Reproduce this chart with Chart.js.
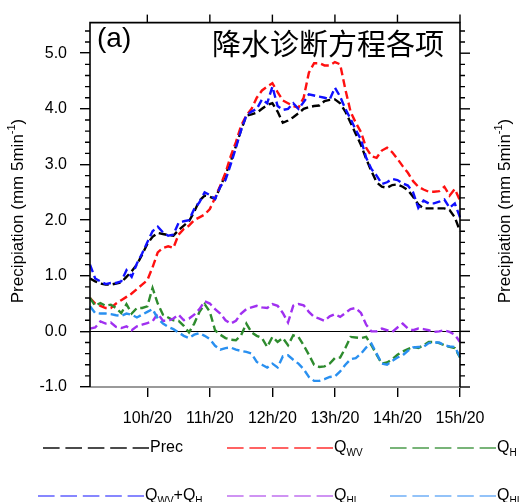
<!DOCTYPE html>
<html><head><meta charset="utf-8">
<script src="https://cdn.jsdelivr.net/npm/chart.js@4.4.1/dist/chart.umd.min.js"></script>
<style>html,body{margin:0;padding:0;background:#fff}#wrap{width:523px;height:502px}</style>
</head><body><div id="wrap"><canvas id="c" width="523" height="502"></canvas></div>
<script>
const times = ["09:05","09:10","09:15","09:20","09:25","09:30","09:35","09:40","09:45","09:50","09:55",
"10:00","10:05","10:10","10:15","10:20","10:25","10:30","10:35","10:40","10:45","10:50","10:55",
"11:00","11:05","11:10","11:15","11:20","11:25","11:30","11:35","11:40","11:45","11:50","11:55",
"12:00","12:05","12:10","12:15","12:20","12:25","12:30","12:35","12:40","12:45","12:50","12:55",
"13:00","13:05","13:10","13:15","13:20","13:25","13:30","13:35","13:40","13:45","13:50","13:55",
"14:00","14:05","14:10","14:15","14:20","14:25","14:30","14:35","14:40","14:45","14:50","14:55",
"15:00"];
const tickTimes = ["10:00","11:00","12:00","13:00","14:00","15:00"];
const tickLabels = ["10h/20","11h/20","12h/20","13h/20","14h/20","15h/20"];
const yTicks = [-1,0,1,2,3,4,5];

const prec = [0.95,0.90,0.86,0.84,0.84,0.86,0.88,0.98,1.08,1.20,1.38,1.57,1.70,1.77,1.75,1.73,1.72,1.82,1.90,1.98,2.15,2.35,2.44,2.42,2.38,2.60,2.82,3.05,3.33,3.62,3.88,3.90,3.93,4.00,4.07,4.10,3.95,3.75,3.79,3.85,3.92,4.00,4.03,4.05,4.06,4.14,4.16,4.17,4.10,3.95,3.75,3.55,3.35,3.10,2.88,2.68,2.60,2.58,2.63,2.64,2.60,2.54,2.42,2.28,2.21,2.21,2.21,2.21,2.21,2.18,2.05,1.80];
const qwv = [0.60,0.50,0.46,0.42,0.42,0.50,0.56,0.62,0.68,0.76,0.84,0.92,1.15,1.42,1.50,1.53,1.50,1.74,1.84,1.90,2.00,2.05,2.10,2.20,2.40,2.62,2.85,3.15,3.40,3.70,3.88,4.00,4.20,4.33,4.40,4.46,4.30,4.15,4.10,4.05,4.02,4.20,4.65,4.82,4.82,4.78,4.78,4.84,4.80,4.35,3.95,3.75,3.58,3.30,3.15,3.12,3.25,3.30,3.22,3.10,2.97,2.85,2.70,2.60,2.55,2.51,2.51,2.52,2.60,2.44,2.56,2.35];
const qh = [0.60,0.46,0.51,0.46,0.48,0.42,0.33,0.49,0.32,0.42,0.42,0.45,0.78,0.50,0.30,0.25,0.20,0.19,0.10,-0.02,0.14,0.35,0.49,0.35,0.02,-0.06,-0.12,-0.15,-0.16,-0.07,0.14,-0.02,-0.08,-0.12,-0.28,-0.10,-0.19,-0.12,-0.25,-0.07,-0.10,-0.25,-0.42,-0.60,-0.64,-0.63,-0.58,-0.48,-0.47,-0.30,-0.10,-0.11,-0.12,-0.10,-0.25,-0.42,-0.58,-0.56,-0.50,-0.42,-0.36,-0.32,-0.28,-0.30,-0.25,-0.19,-0.19,-0.21,-0.25,-0.28,-0.30,-0.47];
const qwvh = [1.20,0.95,0.90,0.85,0.87,0.87,0.90,1.10,0.98,1.22,1.40,1.60,1.80,1.88,1.78,1.72,1.74,1.95,1.98,2.00,2.20,2.32,2.50,2.45,2.38,2.60,2.72,3.00,3.30,3.62,3.88,3.95,4.00,4.17,4.10,4.40,4.05,3.98,4.00,4.10,4.00,4.12,4.26,4.24,4.22,4.20,4.17,4.38,4.22,4.00,3.82,3.62,3.45,3.12,2.92,2.80,2.65,2.68,2.74,2.72,2.66,2.62,2.50,2.22,2.35,2.30,2.30,2.33,2.37,2.22,2.30,2.05];
const qhl = [0.05,0.07,0.18,0.14,0.16,0.08,0.06,0.09,0.02,0.09,0.12,0.15,0.18,0.32,0.19,0.19,0.23,0.30,0.20,0.23,0.30,0.40,0.54,0.50,0.40,0.32,0.20,0.14,0.19,0.32,0.40,0.43,0.46,0.43,0.42,0.49,0.46,0.33,0.16,0.46,0.49,0.47,0.35,0.26,0.23,0.19,0.27,0.31,0.26,0.33,0.40,0.42,0.33,0.12,0.00,0.00,0.05,0.02,-0.01,0.07,0.14,0.05,0.02,0.05,0.04,0.02,-0.01,0.00,0.02,-0.01,-0.06,-0.19];
const qhi = [0.45,0.33,0.32,0.32,0.31,0.29,0.28,0.32,0.30,0.25,0.30,0.35,0.40,0.23,0.14,0.08,0.04,-0.02,-0.08,-0.12,-0.06,-0.03,-0.08,-0.14,-0.26,-0.33,-0.30,-0.29,-0.33,-0.35,-0.37,-0.40,-0.55,-0.60,-0.65,-0.58,-0.65,-0.45,-0.43,-0.51,-0.58,-0.68,-0.82,-0.89,-0.89,-0.86,-0.82,-0.81,-0.72,-0.60,-0.50,-0.48,-0.40,-0.29,-0.22,-0.40,-0.58,-0.60,-0.53,-0.47,-0.43,-0.35,-0.29,-0.28,-0.28,-0.21,-0.20,-0.20,-0.25,-0.27,-0.28,-0.46];

const seriesNames = ["Prec","QWV","QH","QWV+QH","QHL","QHI"];
const legendParts = [
  [["Prec",0]],
  [["Q",0],["WV",1]],
  [["Q",0],["H",1]],
  [["Q",0],["WV",1],["+Q",0],["H",1]],
  [["Q",0],["HL",1]],
  [["Q",0],["HI",1]]
];
const seriesData = [prec,qwv,qh,qwvh,qhl,qhi];
const colors = ["#000000","#ff1010","#2e8b2e","#1010ff","#a030f0","#2a90f0"];
const legendColors = ["#111111","#ff3030","#4c9c4c","#6060ff","#c070f0","#70b0f8"];
const legendPos = [[43,149,448],[227,333,448],[390,496,448],[38,144,496],[227,333,496],[390,496,496]];

const FONT = '"Liberation Sans", Arial, Helvetica, sans-serif';

const framePlugin = {
  id:'frame',
  beforeDatasetsDraw(chart){
    const {ctx, chartArea:a, scales} = chart;
    const y0 = scales.y.getPixelForValue(0);
    ctx.save();
    ctx.strokeStyle='#000'; ctx.lineWidth=1;
    ctx.beginPath(); ctx.moveTo(a.left,Math.round(y0)+0.5); ctx.lineTo(a.right,Math.round(y0)+0.5); ctx.stroke();
    ctx.restore();
  },
  afterDraw(chart){
    const {ctx, chartArea:a, scales} = chart;
    const ys = scales.y, xs = scales.x;
    ctx.save();
    const yb = ys.getPixelForValue(-1);
    ctx.strokeStyle='#9a9a9a'; ctx.lineWidth=2.2;
    ctx.beginPath(); ctx.moveTo(a.left, yb); ctx.lineTo(a.right, yb); ctx.stroke();
    ctx.strokeStyle='#000'; ctx.lineWidth=1.6;
    ctx.beginPath();
    ctx.moveTo(a.left, yb); ctx.lineTo(a.left, a.top); ctx.lineTo(a.right, a.top); ctx.lineTo(a.right, yb);
    ctx.stroke();
    ctx.lineWidth=1.4;
    for (let k=-10;k<=55;k+=2){
      const v=k/10; if (v>5.55) break;
      const p=ys.getPixelForValue(v);
      const major = (k%10===0);
      ctx.beginPath();
      if(!major){ ctx.moveTo(a.left,p); ctx.lineTo(a.left-5,p); }
      ctx.moveTo(a.right,p); ctx.lineTo(a.right+(major?10:5),p);
      ctx.stroke();
    }
    tickTimes.forEach(t=>{
      const px = xs.getPixelForValue(times.indexOf(t));
      ctx.beginPath(); ctx.moveTo(px,a.top); ctx.lineTo(px,a.top-8); ctx.stroke();
    });
    const drawYTitle=(cx,cy)=>{
      ctx.save(); ctx.translate(cx,cy); ctx.rotate(-Math.PI/2);
      ctx.fillStyle='#000'; ctx.textBaseline='middle';
      const parts=[["Precipiation (mm 5min",17,0],["-1",11,-6],[")",17,0]];
      let w=0; parts.forEach(p=>{ctx.font=p[1]+'px '+FONT; w+=ctx.measureText(p[0]).width;});
      let x=-w/2;
      parts.forEach(p=>{ctx.font=p[1]+'px '+FONT; ctx.fillText(p[0],x,p[2]); x+=ctx.measureText(p[0]).width;});
      ctx.restore();
    };
    drawYTitle(18,211);
    drawYTitle(505,211);
    ctx.fillStyle='#000'; ctx.textBaseline='alphabetic';
    ctx.font='28px '+FONT; ctx.textAlign='left';
    ctx.fillText('(a)',97,47);
    ctx.font='29px "Noto Sans CJK SC", sans-serif'; ctx.textAlign='right';
    ctx.fillText('降水诊断方程各项',444,55);
    ctx.textAlign='left';
    legendPos.forEach((lp,i)=>{
      const [x1,x2,y]=lp;
      ctx.strokeStyle=legendColors[i]; ctx.lineWidth=1.4; ctx.setLineDash([16.6,5.8]);
      ctx.beginPath(); ctx.moveTo(x1,y); ctx.lineTo(x2,y); ctx.stroke();
      ctx.setLineDash([]);
      let x=x2+1; ctx.fillStyle='#000'; ctx.textBaseline='middle';
      legendParts[i].forEach(p=>{
        ctx.font=(p[1]?'10px ':'16px ')+FONT;
        ctx.fillText(p[0],x,p[1]?y+5:y);
        x+=ctx.measureText(p[0]).width;
      });
    });
    ctx.restore();
  }
};

const datasets = seriesNames.map((n,i)=>({
  label:n, data:seriesData[i], borderColor:colors[i], backgroundColor:colors[i],
  borderWidth:2.4, borderDash:[8,4], pointRadius:0, fill:false, tension:0,
  order: seriesNames.length-i
}));

new Chart(document.getElementById('c').getContext('2d'),{
  type:'line',
  data:{labels:times, datasets},
  options:{
    responsive:false, animation:false, devicePixelRatio:1,
    layout:{padding:{top:15,left:0,right:0,bottom:0}},
    plugins:{legend:{display:false}, tooltip:{enabled:false}, title:{display:false}},
    scales:{
      x:{type:'category', offset:false,
        grid:{display:true, drawOnChartArea:false, drawTicks:true, tickLength:10, color:'#000', lineWidth:1.4},
        border:{display:false},
        ticks:{autoSkip:false, maxRotation:0, minRotation:0, padding:12, color:'#000', font:{family:FONT,size:16},
          callback:function(v,i){ const k=tickTimes.indexOf(times[i]); return k>=0?tickLabels[k]:null; }},
        afterFit:s=>{s.height=115;}
      },
      y:{type:'linear', min:-1, max:5.55,
        afterBuildTicks:s=>{s.ticks=yTicks.map(v=>({value:v}));},
        grid:{display:true, drawOnChartArea:false, drawTicks:true, tickLength:10, color:'#000', lineWidth:1.4},
        border:{display:false},
        ticks:{padding:13, color:'#000', font:{family:FONT,size:16}, callback:v=>Number(v).toFixed(1)},
        afterFit:s=>{s.width=90;}
      },
      y2:{type:'linear', position:'right', min:-1, max:5.55,
        grid:{display:false}, border:{display:false}, ticks:{display:false},
        afterFit:s=>{s.width=63;}
      }
    }
  },
  plugins:[framePlugin]
});
</script></body></html>
